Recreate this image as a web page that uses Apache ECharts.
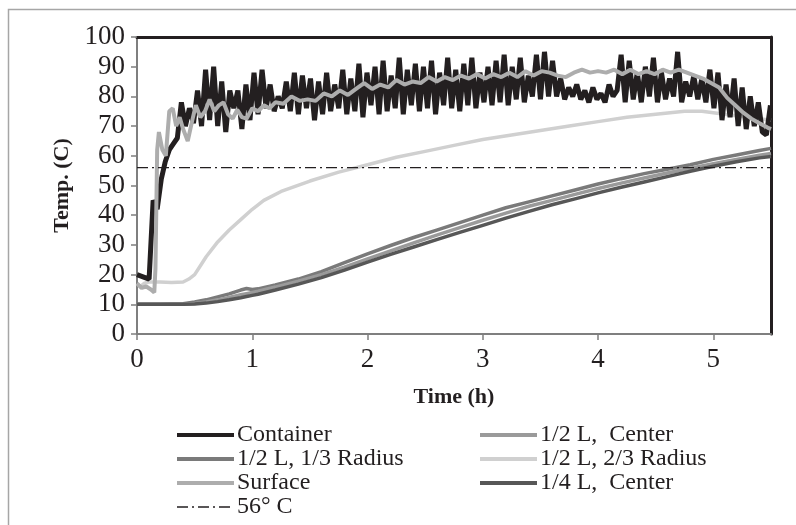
<!DOCTYPE html>
<html>
<head>
<meta charset="utf-8">
<script src="https://cdn.jsdelivr.net/npm/echarts@6/dist/echarts.min.js"></script>
<style>
  html, body { margin: 0; padding: 0; background: #fff; }
  #chart { width: 796px; height: 525px; }
</style>
</head>
<body>
<div id="chart"></div>
<script>
// time axis ticks (h)
const xTicks = [0, 1, 2, 3, 4, 5]

// Container: logged every 0.035 h, very noisy
const contStep = 0.035
const containerV = [
  20, 19.5, 19, 18.5, 45, 42, 52, 58, 62, 64,
  66, 78, 70, 76, 71, 82, 70, 89, 72, 90,
  70, 85, 68, 82, 76, 82, 69, 84, 72, 88,
  74, 89, 76, 84, 75, 80, 76, 85, 75, 88,
  74, 87, 76, 86, 72, 85, 74, 88, 75, 84,
  76, 89, 74, 86, 75, 91, 73, 88, 77, 90,
  74, 92, 75, 87, 76, 93, 74, 89, 77, 91,
  75, 90, 76, 92, 74, 88, 77, 93, 76, 89,
  75, 91, 77, 93, 76, 88, 78, 90, 77, 92,
  78, 94, 77, 90, 79, 93, 78, 87, 80, 94,
  79, 95, 80, 92, 80, 86, 79, 83, 80, 84,
  79, 82, 78, 83, 79, 81, 78, 84, 80, 82,
  94, 78, 92, 79, 88, 78, 90, 80, 93, 78,
  88, 79, 86, 80, 95, 78, 85, 80, 87, 79,
  86, 78, 89, 76, 88, 72, 84, 73, 86, 70,
  83, 69, 80, 70, 78, 68, 67, 77
]

// Surface
const surfT = [
  0, 0.04, 0.08, 0.12, 0.15, 0.16, 0.175, 0.19, 0.22, 0.25,
  0.28, 0.31, 0.34, 0.37, 0.4, 0.44, 0.48, 0.51, 0.55, 0.59,
  0.63, 0.67, 0.71, 0.75, 0.79, 0.83, 0.87, 0.91, 0.95, 1.0,
  1.05, 1.1, 1.15, 1.2, 1.27, 1.34, 1.41, 1.48, 1.55, 1.62,
  1.69, 1.76, 1.83, 1.9, 1.97, 2.04, 2.11, 2.18, 2.25, 2.32,
  2.39, 2.46, 2.53, 2.6, 2.67, 2.74, 2.81, 2.88, 2.95, 3.02,
  3.09, 3.16, 3.23, 3.3, 3.37, 3.44, 3.51, 3.58, 3.65, 3.72,
  3.79, 3.86, 3.93, 4.0, 4.07, 4.14, 4.21, 4.28, 4.35, 4.42,
  4.49, 4.56, 4.63, 4.7, 4.77, 4.84, 4.91, 4.98, 5.05, 5.12,
  5.19, 5.26, 5.33, 5.4, 5.47, 5.5
]
const surfV = [
  17, 15.5, 16, 15, 14, 22, 62, 68, 62, 60,
  75, 76, 70, 73, 69, 65, 72, 77, 73, 75,
  79, 75, 77, 78, 74, 72.5, 75.5, 73, 72.5, 76,
  75, 77, 76, 78, 77.5, 80, 78.5, 79, 78.5, 81,
  80, 82, 80.5, 82.5, 84.5, 82.5, 84, 83, 85.5, 84,
  85, 84.5, 86.5, 85, 86.5, 85.5, 87, 86, 87.5, 86,
  87.5, 86.5, 88, 86.5, 88.5, 87, 88.5, 88, 87, 86.5,
  88, 89, 88, 88.5, 88, 89, 87.5, 89, 87.5, 88.5,
  87.5, 89, 88, 89, 88, 87, 86, 84.5, 83, 79.5,
  77, 74.5, 72.5, 71, 69.5, 69
]

// 1/2 L, 2/3 Radius
const r23T = [0, 0.03, 0.06, 0.1, 0.2, 0.3, 0.4, 0.45, 0.5, 0.55, 0.6, 0.7, 0.8, 0.9, 1.0, 1.1, 1.25, 1.5,
  1.75, 2.0, 2.25, 2.5, 2.75, 3.0, 3.25, 3.5, 3.75, 4.0, 4.25, 4.5, 4.75, 4.9, 5.0, 5.2, 5.4, 5.5]
const r23V = [17, 16, 17, 17.5, 17.5, 17.3, 17.5, 18.5, 20, 23, 26, 31, 35, 38.5, 42, 45, 48, 51.5,
  54.5, 57, 59.5, 61.5, 63.5, 65.5, 67, 68.5, 70, 71.5, 73, 74, 75, 75, 74.5, 73.5, 72.5, 72]

// the three slow-heating probes share a time grid
const lowT = [0, 0.2, 0.4, 0.5, 0.6, 0.7, 0.8, 0.9, 0.95, 1.0, 1.05, 1.2, 1.4, 1.6, 1.8, 2.0, 2.2,
  2.4, 2.6, 2.8, 3.0, 3.2, 3.4, 3.6, 3.8, 4.0, 4.2, 4.4, 4.6, 4.8, 5.0, 5.2, 5.4, 5.5]
const r13V = [10, 10, 10.2, 10.8, 11.5, 12.5, 13.5, 14.8, 15.3, 15, 15.2, 16.5, 18.5, 21, 24, 27, 29.8,
  32.5, 35, 37.5, 40, 42.5, 44.5, 46.5, 48.5, 50.5, 52.3, 54, 55.5, 57, 58.8, 60.3, 61.8, 62.5]
const halfCenterV = [10, 10, 10, 10.3, 10.8, 11.5, 12.3, 13.2, 13.6, 14, 14.4, 15.8, 17.8, 20, 22.5, 25.3, 28,
  30.7, 33.3, 35.8, 38.3, 40.7, 43, 45, 47, 49, 50.8, 52.5, 54.2, 55.8, 57.3, 58.8, 60.2, 60.8]
const quarterCenterV = [10, 10, 10, 10.1, 10.4, 10.9, 11.5, 12.2, 12.6, 13, 13.4, 14.8, 16.8, 19, 21.5, 24.2, 26.8,
  29.3, 31.8, 34.2, 36.6, 39, 41.3, 43.5, 45.5, 47.5, 49.4, 51.2, 53, 54.8, 56.5, 58, 59.3, 59.8]

// 56 C reference
const refT = [0, 5.5]
const refV = [56, 56]

const zip = (t, v) => v.map((y, i) => [t[i], y])
const contData = containerV.map((y, i) => [+(i * contStep).toFixed(3), y])

const serif = 'Liberation Serif'
const ink = '#231f20'
const refDash = [11, 4, 2, 4]

function line(name, data, color, width, z) {
  return {
    name: name, type: 'line', data: data, z: z,
    showSymbol: false, symbol: 'none', smooth: false,
    lineStyle: { color: color, width: width },
    itemStyle: { color: color },
    emphasis: { disabled: true }
  }
}

const legendBase = {
  orient: 'vertical',
  top: 423,
  height: 100,
  padding: 0,
  itemWidth: 57,
  itemHeight: 14,
  itemGap: 0,
  selectedMode: false,
  itemStyle: { opacity: 0 },
  lineStyle: { width: 4 },
  textStyle: { fontFamily: serif, fontSize: 24, color: ink, lineHeight: 24, padding: [0, 0, 0, -2] }
}

var chart = echarts.init(document.getElementById('chart'))
chart.setOption({
  animation: false,
  backgroundColor: '#fff',
  graphic: [{
    type: 'rect', silent: true,
    shape: { x: 8.5, y: 9.5, width: 820, height: 540 },
    style: { fill: 'none', stroke: '#a6a6a6', lineWidth: 1.5 }
  }],
  grid: { left: 137, right: 25, top: 37, bottom: 191, containLabel: false },
  legend: [
    Object.assign({}, legendBase, {
      left: 175,
      data: ['Container', '1/2 L, 1/3 Radius', 'Surface',
        { name: '56° C', lineStyle: { width: 1.5, type: refDash } }]
    }),
    Object.assign({}, legendBase, {
      left: 478,
      data: ['1/2 L,  Center', '1/2 L, 2/3 Radius', '1/4 L,  Center']
    })
  ],
  xAxis: [{
    type: 'value', min: 0, max: 5.5, interval: 1,
    name: 'Time (h)', nameLocation: 'middle', nameGap: 52,
    nameTextStyle: { fontFamily: serif, fontSize: 22, fontWeight: 'bold', color: ink },
    axisLine: { show: true, onZero: false, lineStyle: { color: '#7f7f7f', width: 2 } },
    axisTick: { show: true, length: 6, customValues: xTicks, lineStyle: { color: '#7f7f7f', width: 1.5 } },
    axisLabel: { customValues: xTicks, margin: 12, fontFamily: serif, fontSize: 27, color: ink },
    splitLine: { show: false }
  }, {
    type: 'value', min: 0, max: 5.5, position: 'top',
    axisLine: { show: true, onZero: false, lineStyle: { color: ink, width: 3 } },
    axisTick: { show: false }, axisLabel: { show: false }, splitLine: { show: false }
  }],
  yAxis: [{
    type: 'value', min: 0, max: 100, interval: 10,
    name: 'Temp. (C)', nameLocation: 'middle', nameGap: 64,
    nameTextStyle: { fontFamily: serif, fontSize: 22, fontWeight: 'bold', color: ink },
    axisLine: { show: true, onZero: false, lineStyle: { color: '#7f7f7f', width: 2 } },
    axisTick: { show: true, length: 6, lineStyle: { color: '#7f7f7f', width: 1.5 } },
    axisLabel: { margin: 12, fontFamily: serif, fontSize: 27, color: ink },
    splitLine: { show: false }
  }, {
    type: 'value', min: 0, max: 100, position: 'right',
    axisLine: { show: true, onZero: false, lineStyle: { color: ink, width: 3 } },
    axisTick: { show: false }, axisLabel: { show: false }, splitLine: { show: false }
  }],
  series: [
    line('1/2 L, 2/3 Radius', zip(r23T, r23V), '#d0d0d0', 3.5, 2),
    line('1/2 L, 1/3 Radius', zip(lowT, r13V), '#7a7a7a', 3.5, 3),
    line('1/2 L,  Center', zip(lowT, halfCenterV), '#9a9a9a', 3.5, 3),
    line('1/4 L,  Center', zip(lowT, quarterCenterV), '#575757', 3.5, 3),
    line('Container', contData, ink, 5, 4),
    line('Surface', zip(surfT, surfV), '#adadad', 4, 5),
    {
      name: '56° C', type: 'line', data: zip(refT, refV), z: 6,
      showSymbol: false, symbol: 'none',
      lineStyle: { color: ink, width: 1.3, type: refDash },
      itemStyle: { color: ink },
      emphasis: { disabled: true }
    }
  ]
})
</script>
</body>
</html>
